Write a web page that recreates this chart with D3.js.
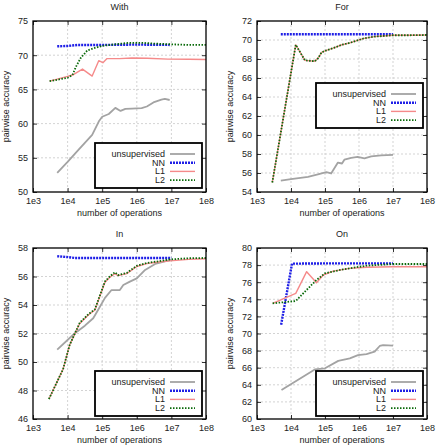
<!DOCTYPE html>
<html>
<head>
<meta charset="UTF-8">
<title>pairwise accuracy</title>
<script src="https://cdn.jsdelivr.net/npm/d3@7"></script>
<style>
  body { margin: 0; background: #fff; }
  text { font-family: "Liberation Sans", Arial, sans-serif; font-size: 9px; fill: #222; }
</style>
</head>
<body>
<script>
// tick labels
var xTickExp = [3, 4, 5, 6, 7, 8];
var seriesNames = ["unsupervised", "NN", "L1", "L2"];

// x values are log10(number of operations)
var withUnsX = [3.7, 4.0, 4.3, 4.71, 4.9, 5.0, 5.19, 5.38, 5.53, 5.67, 5.86, 6.14, 6.29, 6.48, 6.71, 6.81, 6.95];
var withUnsY = [52.8, 54.4, 56.1, 58.35, 60.3, 61.0, 61.4, 62.3, 61.85, 62.15, 62.2, 62.25, 62.5, 63.1, 63.5, 63.6, 63.45];
var withNnX = [3.7, 4.0, 4.3, 5.0, 6.0, 6.95];
var withNnY = [71.3, 71.35, 71.5, 71.5, 71.55, 71.5];
var withL1X = [3.48, 4.0, 4.14, 4.43, 4.71, 4.9, 5.02, 5.14, 5.5, 5.86, 6.3, 6.9, 7.5, 8.0];
var withL1Y = [66.2, 66.9, 67.1, 67.97, 66.95, 69.2, 68.9, 69.5, 69.5, 69.6, 69.55, 69.43, 69.4, 69.38];
var withL2X = [3.48, 4.0, 4.14, 4.24, 4.38, 4.57, 4.81, 5.0, 5.14, 5.29, 5.76, 6.19, 6.5, 6.95, 7.5, 8.0];
var withL2Y = [66.2, 66.7, 67.1, 68.3, 69.6, 70.7, 71.1, 71.35, 71.45, 71.55, 71.8, 71.8, 71.7, 71.6, 71.5, 71.5];

var forUnsX = [3.7, 4.0, 4.5, 4.79, 5.04, 5.18, 5.38, 5.5, 5.57, 5.77, 5.96, 6.16, 6.36, 6.65, 7.0];
var forUnsY = [55.2, 55.35, 55.6, 55.85, 56.1, 55.95, 57.1, 57.0, 57.4, 57.6, 57.7, 57.55, 57.75, 57.85, 57.9];
var forNnX = [3.7, 5.0, 6.0, 7.0];
var forNnY = [70.6, 70.6, 70.6, 70.6];
var forL1X = [3.45, 4.14, 4.41, 4.7, 4.8, 4.9, 5.04, 5.24, 5.5, 5.73, 6.12, 6.45, 6.71, 7.0, 7.5, 8.0];
var forL1Y = [55.0, 69.5, 67.86, 67.76, 68.1, 68.7, 68.9, 69.15, 69.5, 69.7, 70.15, 70.35, 70.42, 70.5, 70.5, 70.53];
var forL2X = [3.45, 4.14, 4.41, 4.7, 4.8, 4.9, 5.04, 5.24, 5.5, 5.73, 6.12, 6.45, 6.71, 7.0, 7.5, 8.0];
var forL2Y = [55.0, 69.5, 67.86, 67.76, 68.1, 68.7, 68.9, 69.15, 69.5, 69.7, 70.15, 70.35, 70.42, 70.5, 70.5, 70.53];

var inUnsX = [3.7, 4.2, 4.5, 4.74, 4.88, 5.08, 5.27, 5.51, 5.61, 5.8, 6.0, 6.24, 6.53, 6.87, 7.0];
var inUnsY = [50.87, 52.0, 52.55, 53.07, 53.65, 54.5, 55.05, 55.05, 55.4, 55.64, 55.87, 56.46, 56.88, 57.1, 57.16];
var inNnX = [3.7, 3.97, 4.2, 5.0, 6.0, 7.0];
var inNnY = [57.42, 57.37, 57.3, 57.3, 57.3, 57.3];
var inL1X = [3.46, 3.87, 4.06, 4.35, 4.6, 4.79, 4.93, 5.08, 5.22, 5.37, 5.46, 5.71, 6.0, 6.29, 6.58, 6.96, 7.5, 8.0];
var inL1Y = [47.4, 49.5, 51.2, 52.7, 53.3, 53.65, 54.6, 55.6, 55.95, 56.2, 56.06, 56.2, 56.7, 56.9, 57.0, 57.1, 57.2, 57.25];
var inL2X = [3.46, 3.87, 4.06, 4.35, 4.6, 4.79, 4.93, 5.08, 5.22, 5.37, 5.46, 5.71, 6.0, 6.29, 6.58, 6.96, 7.5, 8.0];
var inL2Y = [47.4, 49.5, 51.2, 52.75, 53.35, 53.7, 54.65, 55.65, 56.0, 56.3, 56.1, 56.25, 56.75, 56.95, 57.05, 57.2, 57.28, 57.3];

var onUnsX = [3.72, 4.7, 5.0, 5.39, 5.73, 5.97, 6.22, 6.46, 6.61, 6.71, 7.0];
var onUnsY = [63.4, 65.8, 65.93, 66.8, 67.1, 67.48, 67.6, 67.87, 68.54, 68.65, 68.57];
var onNnX = [3.71, 4.03, 5.0, 6.0, 7.0];
var onNnY = [71.03, 78.17, 78.2, 78.2, 78.2];
var onL1X = [3.46, 4.14, 4.46, 4.75, 4.95, 5.24, 5.73, 6.22, 7.0, 8.0];
var onL1Y = [73.53, 74.7, 77.23, 75.94, 76.84, 77.3, 77.62, 77.74, 77.8, 77.8];
var onL2X = [3.46, 4.14, 4.41, 4.75, 5.0, 5.53, 6.22, 7.0, 8.0];
var onL2Y = [73.53, 73.8, 74.9, 76.26, 77.04, 77.5, 77.93, 78.13, 78.13];

var withTicks = [50, 55, 60, 65, 70, 75];
var forTicks = [54, 56, 58, 60, 62, 64, 66, 68, 70, 72];
var inTicks = [46, 48, 50, 52, 54, 56, 58];
var onTicks = [60, 62, 64, 66, 68, 70, 72, 74, 76, 78, 80];

var panels = [
  {title: "With", yTicks: withTicks, l: 33, r: 206, t: 21, b: 192, legY: 143,
   series: [[withUnsX, withUnsY], [withNnX, withNnY], [withL1X, withL1Y], [withL2X, withL2Y]]},
  {title: "For", yTicks: forTicks, l: 257, r: 427, t: 21, b: 192, legY: 83,
   series: [[forUnsX, forUnsY], [forNnX, forNnY], [forL1X, forL1Y], [forL2X, forL2Y]]},
  {title: "In", yTicks: inTicks, l: 33, r: 206, t: 248, b: 419, legY: 371,
   series: [[inUnsX, inUnsY], [inNnX, inNnY], [inL1X, inL1Y], [inL2X, inL2Y]]},
  {title: "On", yTicks: onTicks, l: 257, r: 427, t: 248, b: 419, legY: 371,
   series: [[onUnsX, onUnsY], [onNnX, onNnY], [onL1X, onL1Y], [onL2X, onL2Y]]}
];

var styles = [
  {color: "#a3a3a3", width: 1.8, dash: null},
  {color: "#1f1fe6", width: 2.4, dash: "2,1"},
  {color: "#f58a8a", width: 1.4, dash: null},
  {color: "#0a6a0a", width: 1.8, dash: "1.5,1.5"}
];

var svg = d3.select("body").append("svg")
  .attr("width", 438).attr("height", 446);

panels.forEach(function(p) {
  var x = d3.scaleLog().domain([1e3, 1e8]).range([p.l, p.r]);
  var y = d3.scaleLinear().domain([p.yTicks[0], p.yTicks[p.yTicks.length - 1]]).range([p.b, p.t]);
  var g = svg.append("g");

  // grid
  g.selectAll(".gx").data(xTickExp.slice(1, -1)).enter().append("line")
    .attr("x1", function(d) { return x(Math.pow(10, d)); })
    .attr("x2", function(d) { return x(Math.pow(10, d)); })
    .attr("y1", p.t).attr("y2", p.b)
    .attr("stroke", "#c8c8c8").attr("stroke-width", 0.8).attr("stroke-dasharray", "2,2");
  g.selectAll(".gy").data(p.yTicks.slice(1, -1)).enter().append("line")
    .attr("y1", function(d) { return y(d); }).attr("y2", function(d) { return y(d); })
    .attr("x1", p.l).attr("x2", p.r)
    .attr("stroke", "#c8c8c8").attr("stroke-width", 0.8).attr("stroke-dasharray", "2,2");

  // axes with inward ticks, mirrored
  var xa = d3.axisBottom(x).tickValues(xTickExp.map(function(e) { return Math.pow(10, e); }))
    .tickFormat(function(d) { return "1e" + Math.round(Math.log10(d)); })
    .tickSizeInner(-4).tickSizeOuter(0).tickPadding(6);
  g.append("g").attr("transform", "translate(0," + p.b + ")").call(xa);
  g.append("g").attr("transform", "translate(0," + p.t + ")")
    .call(d3.axisTop(x).tickValues(xTickExp.map(function(e) { return Math.pow(10, e); }))
      .tickFormat("").tickSizeInner(-4).tickSizeOuter(0));
  var ya = d3.axisLeft(y).tickValues(p.yTicks).tickSizeInner(-4).tickSizeOuter(0).tickPadding(5);
  g.append("g").attr("transform", "translate(" + p.l + ",0)").call(ya);
  g.append("g").attr("transform", "translate(" + p.r + ",0)")
    .call(d3.axisRight(y).tickValues(p.yTicks).tickFormat("").tickSizeInner(-4).tickSizeOuter(0));
  g.selectAll(".domain").remove();
  g.selectAll(".tick line").attr("stroke", "#000").attr("stroke-width", 0.8);
  g.selectAll(".tick text").style("font-size", "9px").attr("fill", "#222")
    .style("font-family", "Liberation Sans, Arial, sans-serif");

  // series
  var clipId = "clip" + p.title;
  svg.append("clipPath").attr("id", clipId).append("rect")
    .attr("x", p.l).attr("y", p.t).attr("width", p.r - p.l).attr("height", p.b - p.t);
  var line = d3.line()
    .x(function(d) { return x(Math.pow(10, d[0])); })
    .y(function(d) { return y(d[1]); });
  p.series.forEach(function(s, i) {
    var pts = s[0].map(function(v, k) { return [v, s[1][k]]; });
    g.append("path").datum(pts).attr("d", line)
      .attr("clip-path", "url(#" + clipId + ")")
      .attr("fill", "none").attr("stroke", styles[i].color)
      .attr("stroke-width", styles[i].width)
      .attr("stroke-dasharray", styles[i].dash)
      .attr("stroke-linejoin", "round");
  });

  // frame
  g.append("rect").attr("x", p.l).attr("y", p.t)
    .attr("width", p.r - p.l).attr("height", p.b - p.t)
    .attr("fill", "none").attr("stroke", "#000").attr("stroke-width", 1.3);

  // legend
  var lw = 107, lh = 45, lx = p.r - 4 - lw, ly = p.legY;
  var leg = g.append("g");
  leg.append("rect").attr("x", lx).attr("y", ly).attr("width", lw).attr("height", lh)
    .attr("fill", "#fff").attr("stroke", "#000").attr("stroke-width", 1.8);
  seriesNames.forEach(function(n, i) {
    var yy = ly + 11 + i * 8.7;
    leg.append("text").attr("x", lx + lw - 37).attr("y", yy + 3)
      .attr("text-anchor", "end").text(n);
    leg.append("line").attr("x1", lx + lw - 32).attr("x2", lx + lw - 7)
      .attr("y1", yy).attr("y2", yy)
      .attr("stroke", styles[i].color).attr("stroke-width", styles[i].width)
      .attr("stroke-dasharray", styles[i].dash);
  });

  // titles and labels
  g.append("text").attr("x", (p.l + p.r) / 2).attr("y", p.t - 11)
    .attr("text-anchor", "middle").text(p.title);
  g.append("text").attr("x", (p.l + p.r) / 2).attr("y", p.b + 24)
    .attr("text-anchor", "middle").text("number of operations");
  g.append("text")
    .attr("transform", "translate(" + (p.l - 24) + "," + ((p.t + p.b) / 2) + ") rotate(-90)")
    .attr("text-anchor", "middle").text("pairwise accuracy");
});
</script>
</body>
</html>
